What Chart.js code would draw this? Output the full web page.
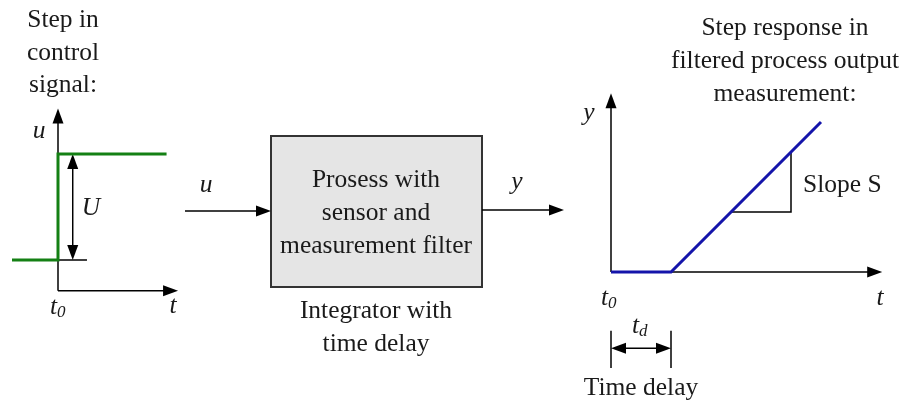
<!DOCTYPE html>
<html>
<head>
<meta charset="utf-8">
<script src="https://cdn.jsdelivr.net/npm/chart.js@4.4.1/dist/chart.umd.min.js"></script>
<style>
  html, body { margin: 0; padding: 0; background: #fff; }
  #wrap { width: 903px; height: 404px; }
</style>
</head>
<body>
<div id="wrap"><canvas id="StepChart" width="903" height="404"></canvas></div>
<script>
// Step in the control signal (time relative to t0, u relative to the start level)
var stepTime = [-1, 0, 0, 2.36];
var stepSignal = [0, 0, 1, 1];

// Step response of the filtered process output (time in units of td)
var respTime = [0, 1, 3.5];
var respOutput = [0, 0, 2.5];

// slope triangle under the response line
var slopeTime = [2, 3, 3];
var slopeOutput = [1, 1, 2];

var W = 903, H = 404;
var SERIF = "'Liberation Serif', 'Times New Roman', serif";
var FS = 25.5;

// where each small plot sits on the page (origin pixel and pixels per unit)
var left = { x0: 58, y0: 260, ux: 46, uy: 106 };
var right = { x0: 611, y0: 272, ux: 60, uy: 60 };

function toPoints(xs, ys) {
  return xs.map(function (x, i) { return { x: x, y: ys[i] }; });
}

function xScale(p) {
  return { type: "linear", display: false, min: -p.x0 / p.ux, max: (W - p.x0) / p.ux };
}
function yScale(p) {
  return { type: "linear", display: false, min: -(H - p.y0) / p.uy, max: p.y0 / p.uy };
}

function arrowHead(ctx, x1, y1, x2, y2, len, half) {
  var a = Math.atan2(y2 - y1, x2 - x1);
  ctx.beginPath();
  ctx.moveTo(x2, y2);
  ctx.lineTo(x2 - len * Math.cos(a) + half * Math.sin(a), y2 - len * Math.sin(a) - half * Math.cos(a));
  ctx.lineTo(x2 - len * Math.cos(a) - half * Math.sin(a), y2 - len * Math.sin(a) + half * Math.cos(a));
  ctx.closePath();
  ctx.fill();
}

function arrow(ctx, x1, y1, x2, y2, both) {
  var a = Math.atan2(y2 - y1, x2 - x1);
  var len = 15, half = 5.5;
  ctx.beginPath();
  ctx.moveTo(both ? x1 + (len - 2) * Math.cos(a) : x1, both ? y1 + (len - 2) * Math.sin(a) : y1);
  ctx.lineTo(x2 - (len - 2) * Math.cos(a), y2 - (len - 2) * Math.sin(a));
  ctx.stroke();
  arrowHead(ctx, x1, y1, x2, y2, len, half);
  if (both) arrowHead(ctx, x2, y2, x1, y1, len, half);
}

function line(ctx, x1, y1, x2, y2) {
  ctx.beginPath();
  ctx.moveTo(x1, y1);
  ctx.lineTo(x2, y2);
  ctx.stroke();
}

function text(ctx, str, x, y, italic, size, align) {
  ctx.font = (italic ? "italic " : "") + (size || FS) + "px " + SERIF;
  ctx.textAlign = align || "center";
  ctx.fillText(str, x, y);
}

function subText(ctx, main, sub, x, y) {
  text(ctx, main, x, y, true, FS, "right");
  text(ctx, sub, x, y + 3, true, 17, "left");
}

// axes, arrows, block and labels
var diagram = {
  id: "diagram",
  beforeDatasetsDraw: function (chart) {
    var ctx = chart.ctx;
    var s = chart.scales;
    function L(t, u) { return [s.xL.getPixelForValue(t), s.yL.getPixelForValue(u)]; }
    function R(t, y) { return [s.xR.getPixelForValue(t), s.yR.getPixelForValue(y)]; }

    ctx.save();
    ctx.strokeStyle = "#000";
    ctx.fillStyle = "#000";
    ctx.lineWidth = 1.5;

    // left plot axes
    var o = L(0, -0.29), top = L(0, 1.43), end = L(2.61, -0.29);
    arrow(ctx, o[0], o[1], top[0], top[1]);
    arrow(ctx, o[0], o[1], end[0], end[1]);
    var b0 = L(0, 0), b1 = L(0.63, 0);
    line(ctx, b0[0], b0[1], b1[0], b1[1]);
    var ua = L(0.32, 0), ub = L(0.32, 1);
    arrow(ctx, ua[0], ua[1], ub[0], ub[1], true);

    // right plot axes
    var ro = R(0, 0), rtop = R(0, 2.98), rend = R(4.52, 0);
    arrow(ctx, ro[0], ro[1], rtop[0], rtop[1]);
    arrow(ctx, ro[0], ro[1], rend[0], rend[1]);

    // time delay marker
    var d0 = R(0, -0.98), d1 = R(0, -1.6), d2 = R(1, -0.98), d3 = R(1, -1.6);
    line(ctx, d0[0], d0[1], d1[0], d1[1]);
    line(ctx, d2[0], d2[1], d3[0], d3[1]);
    var m0 = R(0, -1.27), m1 = R(1, -1.27);
    arrow(ctx, m0[0], m0[1], m1[0], m1[1], true);

    // block
    ctx.fillStyle = "#e5e5e5";
    ctx.fillRect(271, 136, 211, 151);
    ctx.strokeStyle = "#333";
    ctx.lineWidth = 2;
    ctx.strokeRect(271, 136, 211, 151);
    ctx.strokeStyle = "#000";
    ctx.fillStyle = "#000";
    ctx.lineWidth = 1.5;
    arrow(ctx, 185, 211, 271, 211);
    arrow(ctx, 482, 210, 564, 210);

    ctx.fillStyle = "#1a1a1a";
    ctx.textBaseline = "alphabetic";

    // texts
    text(ctx, "Step in", 63, 27);
    text(ctx, "control", 63, 60);
    text(ctx, "signal:", 63, 92);

    text(ctx, "Step response in", 785, 35);
    text(ctx, "filtered process output", 785, 68);
    text(ctx, "measurement:", 785, 101);

    text(ctx, "Prosess with", 376, 187);
    text(ctx, "sensor and", 376, 220);
    text(ctx, "measurement filter", 376, 253);
    text(ctx, "Integrator with", 376, 318);
    text(ctx, "time delay", 376, 351);

    text(ctx, "u", 39, 138, true);
    text(ctx, "U", 91, 215, true);
    subText(ctx, "t", "0", 57, 314);
    text(ctx, "t", 173, 313, true);

    text(ctx, "u", 206, 192, true);
    text(ctx, "y", 517, 189, true);

    text(ctx, "y", 589, 120, true);
    text(ctx, "Slope S", 803, 192, false, FS, "left");
    subText(ctx, "t", "0", 608, 305);
    text(ctx, "t", 880, 305, true);
    subText(ctx, "t", "d", 639, 333);
    text(ctx, "Time delay", 641, 395);

    ctx.restore();
  },
};

var ctx = document.getElementById("StepChart").getContext("2d");
var chart = new Chart(ctx, {
  type: "scatter",
  data: {
    datasets: [
      {
        label: "Control signal u",
        data: toPoints(stepTime, stepSignal),
        xAxisID: "xL",
        yAxisID: "yL",
        showLine: true,
        borderColor: "rgb(20, 128, 20)",
        borderWidth: 3,
        pointRadius: 0,
        borderJoinStyle: "miter",
        order: 0,
      },
      {
        label: "Output y",
        data: toPoints(respTime, respOutput),
        xAxisID: "xR",
        yAxisID: "yR",
        showLine: true,
        borderColor: "rgb(20, 20, 170)",
        borderWidth: 3,
        pointRadius: 0,
        borderJoinStyle: "miter",
        order: 0,
      },
      {
        label: "Slope S",
        data: toPoints(slopeTime, slopeOutput),
        xAxisID: "xR",
        yAxisID: "yR",
        showLine: true,
        borderColor: "#000",
        borderWidth: 1.5,
        pointRadius: 0,
        borderJoinStyle: "miter",
        order: 1,
      },
    ],
  },
  options: {
    responsive: false,
    animation: false,
    layout: { padding: 0 },
    plugins: {
      legend: { display: false },
      tooltip: { enabled: false },
    },
    scales: {
      xL: xScale(left),
      yL: yScale(left),
      xR: xScale(right),
      yR: yScale(right),
    },
  },
  plugins: [diagram],
});
</script>
</body>
</html>
